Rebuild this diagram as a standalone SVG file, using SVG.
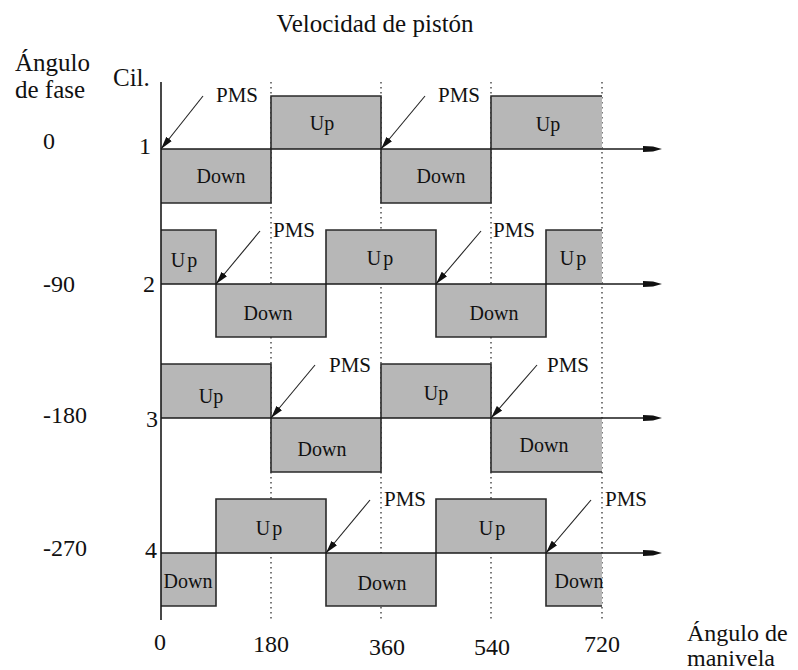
<svg xmlns="http://www.w3.org/2000/svg" width="798" height="670" viewBox="0 0 798 670" font-family="'Liberation Serif', Tinos, 'Times New Roman', 'Nimbus Roman', 'DejaVu Serif', serif">
<defs>
<style>
text{font-family:"Liberation Serif",Tinos,"Times New Roman","Nimbus Roman","DejaVu Serif",serif;fill:#111}
.t25{font-size:25px}
.ax{font-size:24px}
.n24{font-size:24px}
.pms{font-size:21px}
.lb{font-size:20px;text-anchor:middle}
.box{fill:#b7b7b7;stroke:none}
.wave{fill:none;stroke:#2a2a2a;stroke-width:1.6}
.axis{fill:none;stroke:#1a1a1a;stroke-width:1.6}
.grid{fill:none;stroke:#333;stroke-width:1.3;stroke-dasharray:1.5 3.5}
.ptr{fill:none;stroke:#222;stroke-width:1.1;marker-end:url(#ah)}
.head{fill:#111}
</style>
<marker id="ah" markerUnits="userSpaceOnUse" markerWidth="16" markerHeight="10" refX="13" refY="3.5" orient="auto" viewBox="0 0 16 7">
<path d="M0,0 L13,3.5 L0,7 Z" fill="#111"/>
</marker>
</defs>
<rect width="798" height="670" fill="#fff"/>

<g id="gridlines">
<line class="grid" x1="271" y1="82" x2="271" y2="622"/>
<line class="grid" x1="381" y1="82" x2="381" y2="622"/>
<line class="grid" x1="491" y1="82" x2="491" y2="622"/>
<line class="grid" x1="602" y1="82" x2="602" y2="622"/>
</g>

<g id="row1">
<rect class="box" x="161" y="149" width="110" height="54"/>
<rect class="box" x="271" y="96" width="110" height="53"/>
<rect class="box" x="381" y="149" width="110" height="54"/>
<rect class="box" x="491" y="96" width="111" height="53"/>
<polyline class="wave" points="161,203 271,203 271,96 381,96 381,203 491,203 491,96 602,96"/>
<text class="lb" x="221" y="183">Down</text>
<text class="lb" x="322" y="130">Up</text>
<text class="lb" x="441" y="183">Down</text>
<text class="lb" x="548" y="131">Up</text>
</g>

<g id="row2">
<rect class="box" x="161" y="230" width="55" height="54"/>
<rect class="box" x="216" y="284" width="110" height="53"/>
<rect class="box" x="326" y="230" width="110" height="54"/>
<rect class="box" x="436" y="284" width="110" height="53"/>
<rect class="box" x="546" y="230" width="56" height="54"/>
<polyline class="wave" points="161,230 216,230 216,337 326,337 326,230 436,230 436,337 546,337 546,230 602,230"/>
<text class="lb" x="185" y="267" letter-spacing="2">Up</text>
<text class="lb" x="268" y="320">Down</text>
<text class="lb" x="381" y="265" letter-spacing="2">Up</text>
<text class="lb" x="494" y="320">Down</text>
<text class="lb" x="574" y="265" letter-spacing="2">Up</text>
</g>

<g id="row3">
<rect class="box" x="161" y="364" width="110" height="54"/>
<rect class="box" x="271" y="418" width="110" height="54"/>
<rect class="box" x="381" y="364" width="110" height="54"/>
<rect class="box" x="491" y="418" width="111" height="54"/>
<polyline class="wave" points="161,364 271,364 271,472 381,472 381,364 491,364 491,472 602,472"/>
<text class="lb" x="211" y="403">Up</text>
<text class="lb" x="322" y="456">Down</text>
<text class="lb" x="436" y="400">Up</text>
<text class="lb" x="544" y="452">Down</text>
</g>

<g id="row4">
<rect class="box" x="161" y="553" width="55" height="53"/>
<rect class="box" x="216" y="499" width="110" height="54"/>
<rect class="box" x="326" y="553" width="110" height="53"/>
<rect class="box" x="436" y="499" width="110" height="54"/>
<rect class="box" x="546" y="553" width="56" height="53"/>
<polyline class="wave" points="161,606 216,606 216,499 326,499 326,606 436,606 436,499 546,499 546,606 602,606"/>
<text class="lb" x="188" y="588">Down</text>
<text class="lb" x="270" y="535" letter-spacing="2">Up</text>
<text class="lb" x="382" y="590">Down</text>
<text class="lb" x="493" y="535" letter-spacing="2">Up</text>
<text class="lb" x="579" y="588">Down</text>
</g>

<g id="connectors">
<line class="axis" x1="161" y1="82" x2="161" y2="620"/>
<line class="axis" x1="161" y1="149" x2="658" y2="149"/>
<line class="axis" x1="161" y1="284" x2="658" y2="284"/>
<line class="axis" x1="161" y1="418" x2="658" y2="418"/>
<line class="axis" x1="161" y1="553" x2="658" y2="553"/>
<path class="head" d="M643,146 L653,146.5 L662,149 L653,151.5 L643,152 Z"/>
<path class="head" d="M643,281 L653,281.5 L662,284 L653,286.5 L643,287 Z"/>
<path class="head" d="M643,415 L653,415.5 L662,418 L653,420.5 L643,421 Z"/>
<path class="head" d="M643,550 L653,550.5 L662,553 L653,555.5 L643,556 Z"/>
<line class="ptr" x1="203" y1="96" x2="161" y2="149"/>
<line class="ptr" x1="425" y1="96" x2="381" y2="149"/>
<line class="ptr" x1="260" y1="231" x2="216" y2="284"/>
<line class="ptr" x1="481" y1="231" x2="436" y2="284"/>
<line class="ptr" x1="315" y1="365" x2="271" y2="418"/>
<line class="ptr" x1="537" y1="365" x2="491" y2="418"/>
<line class="ptr" x1="370" y1="500" x2="326" y2="553"/>
<line class="ptr" x1="591" y1="500" x2="546" y2="553"/>
</g>

<g id="pms-labels">
<text class="pms" x="216" y="102">PMS</text>
<text class="pms" x="438" y="102">PMS</text>
<text class="pms" x="273" y="237">PMS</text>
<text class="pms" x="493" y="237">PMS</text>
<text class="pms" x="329" y="372">PMS</text>
<text class="pms" x="547" y="372">PMS</text>
<text class="pms" x="384" y="506">PMS</text>
<text class="pms" x="605" y="506">PMS</text>
</g>

<g id="title">
<text class="t25" x="375" y="32" text-anchor="middle">Velocidad de pistón</text>
</g>

<g id="phase-labels">
<text class="t25" x="15" y="71">Ángulo</text>
<text class="t25" x="15" y="98">de fase</text>
<text class="n24" x="43" y="149">0</text>
<text class="n24" x="43" y="292">-90</text>
<text class="n24" x="43" y="423">-180</text>
<text class="n24" x="43" y="556">-270</text>
</g>

<g id="cyl-labels">
<text class="t25" x="113" y="86">Cil.</text>
<text class="n24" x="151" y="154" text-anchor="end">1</text>
<text class="n24" x="155" y="292" text-anchor="end">2</text>
<text class="n24" x="158" y="427" text-anchor="end">3</text>
<text class="n24" x="157" y="558" text-anchor="end">4</text>
</g>

<g id="crank-labels">
<text class="n24" x="160" y="650" text-anchor="middle">0</text>
<text class="n24" x="271" y="652" text-anchor="middle">180</text>
<text class="n24" x="387" y="655" text-anchor="middle">360</text>
<text class="n24" x="492" y="655" text-anchor="middle">540</text>
<text class="n24" x="602" y="652" text-anchor="middle">720</text>
<text class="ax" x="687" y="641">Ángulo de</text>
<text class="ax" x="687" y="666">manivela</text>
</g>
</svg>
